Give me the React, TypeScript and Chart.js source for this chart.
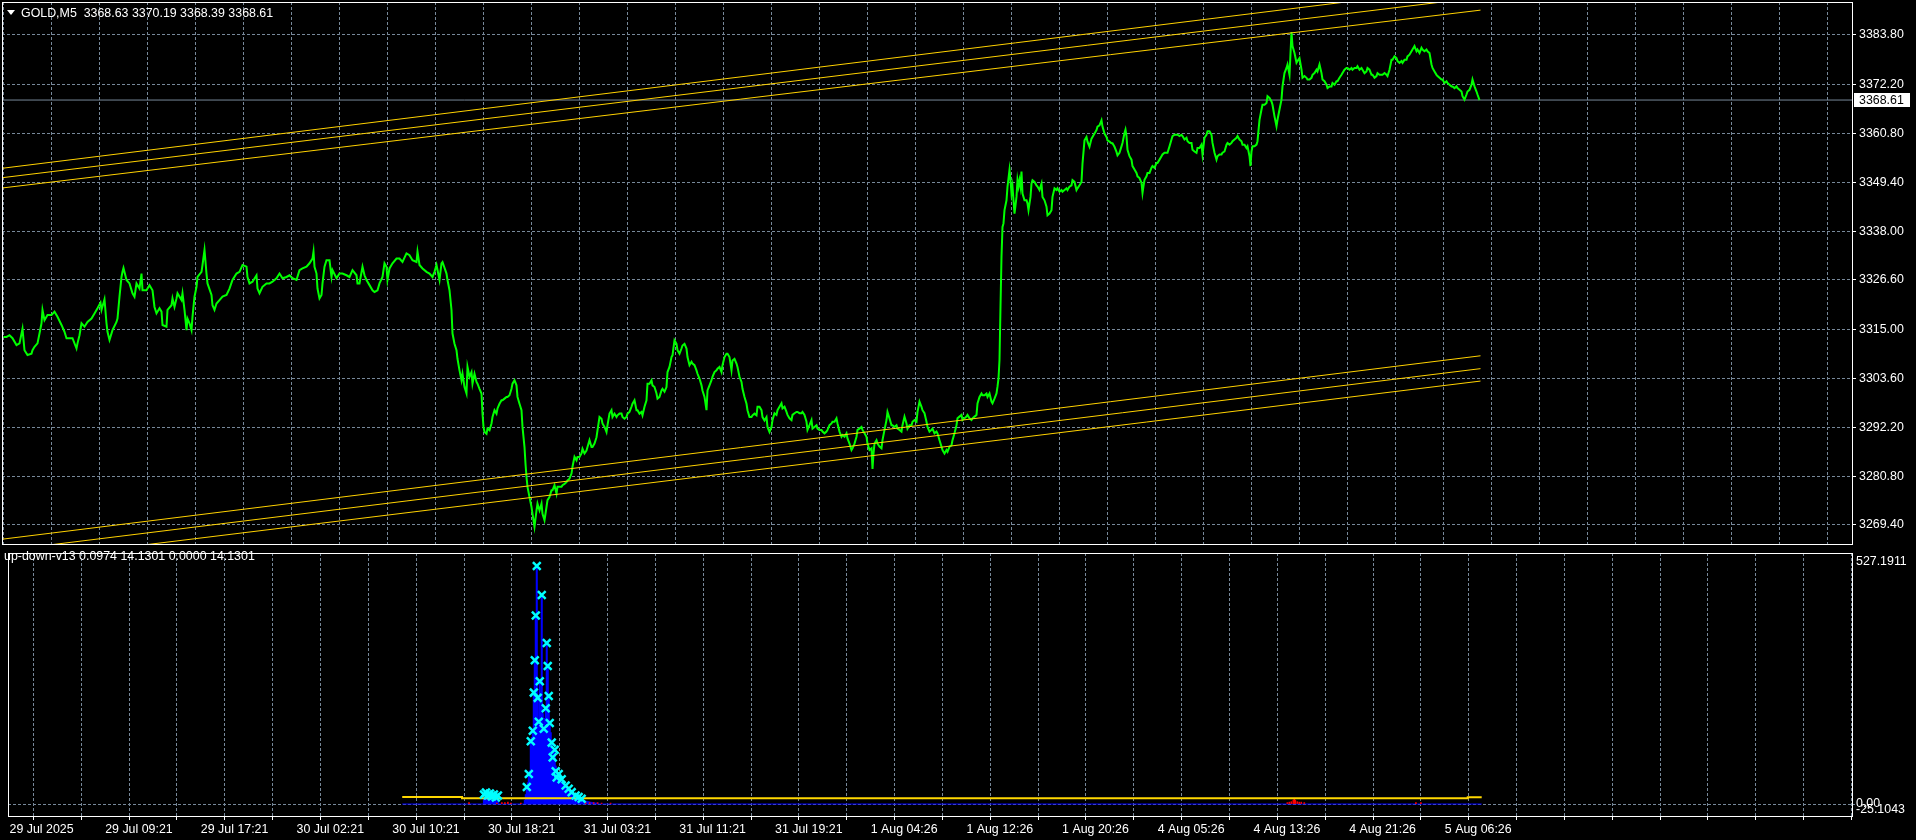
import React, { useEffect, useRef } from "react";
import { Chart, registerables } from "chart.js";

Chart.register(...registerables);

// ---------------- data ----------------
const titleText = "GOLD,M5  3368.63 3370.19 3368.39 3368.61";
const indicatorTitle = "up-down-v13 0.0974 14.1301 0.0000 14.1301";

const timeLabels = [
  "29 Jul 2025", "29 Jul 09:21", "29 Jul 17:21", "30 Jul 02:21", "30 Jul 10:21",
  "30 Jul 18:21", "31 Jul 03:21", "31 Jul 11:21", "31 Jul 19:21", "1 Aug 04:26",
  "1 Aug 12:26", "1 Aug 20:26", "4 Aug 05:26", "4 Aug 13:26", "4 Aug 21:26", "5 Aug 06:26",
];
const gridStep = 48;
const labelStep = 96;
const barMin = -1.5;
const barMax = 1848.5;

const priceTicks = [3383.8, 3372.2, 3360.8, 3349.4, 3338.0, 3326.6, 3315.0, 3303.6, 3292.2, 3280.8, 3269.4];
const priceMin = 3264.96;
const priceMax = 3391.5;
const lastPrice = 3368.61;

// close price (bar index, price)
const closeBars = [
  0,3,6,9,13,16,19,21,24,28, 29,31,34,36,38,39,41,44,48,51, 54,58,61,63,66,69,73,74,76,78,
  81,84,88,91,94,97,98,101,103,104, 106,109,113,114,116,118,119,120,123,126, 129,131,133,136,138,139,143,146,149,151,
  153,156,158,159,163,164,168,169,171,173, 174,178,179,181,183,184,186,188,189,191, 193,194,198,199,201,203,204,208,209,211,
  213,216,219,223,226,229,233,236,239,243, 244,246,249,253,254,256,259,263,266,269, 273,276,279,283,286,289,293,296,299,303,
  306,309,310,311,313,314,316,318,319,321, 323,326,328,329,333,336,339,343,346,349, 353,354,356,359,361,363,366,369,371,374,
  376,379,381,383,384,386,389,393,396,399, 403,406,409,413,414,416,419,423,426,429, 431,433,436,438,439,443,444,446,448,
  449,451,453,454,456,458,459,461,463,464, 466,468,469,471,473,474,476,478,479,480, 481,483,484,486,488,489,491,493,494,496,
  498,499,501,503,504,506,508,509,511,513, 514,516,518,519,521,522,523,524,526,528, 529,531,533,534,536,538,539,541,543,544,
  546,548,549,551,553,554,556,558,559,561, 563,564,566,568,569,571,573,574,576,578, 579,581,583,584,586,588,589,591,593,594,
  596,598,599,601,603,604,606,608,609,611, 613,614,616,618,619,621,623,624,626,628, 629,631,633,634,636,638,639,641,643,644,
  646,648,649,651,653,654,656,658,659,661, 663,664,666,668,669,671,673,674,676,678, 679,681,683,684,686,688,689,691,693,694,
  696,698,699,701,703,704,706,708,709,711, 713,714,716,718,719,721,723,724,726,728, 729,731,733,734,736,738,739,741,743,744,
  746,748,749,751,753,754,756,758,759,761, 763,764,766,
  768,769,771,773,774,776,778,779,781,783, 784,786,788,789,791,793,794,796,798,799, 801,803,804,806,808,809,811,813,814,816,
  818,819,821,823,824,826,828,829,831,833, 834,836,838,839,841,843,844,846,848,849, 851,853,854,856,858,859,861,863,864,866,
  868,869,870,871,873,874,876,878,879,881, 883,884,886,888,889,891,893,894,896,898, 899,901,903,904,906,908,909,911,913,914,
  916,918,919,921,923,924,926,928,929,931, 933,934,936,938,939,941,943,944,946,948, 949,951,953,954,956,958,959,961,963,964,
  966,968,969,971,973,974,976,978,979,981, 983,984,986,988,989,991,993,994,995,996, 997,998,999,1000,1001,1003,1004,1005,1006,1007,
  1008,1009,1010,1011,1013,1014,1015,1016,1017,1018, 1019,1021,1023,1024,1025,1027,1028,1029,1031,1033,
  1034,1036,1038,1039,1041,1043,1044,1046,1048,1049, 1051,1053,1054,1056,1058,1059,1061,1063,1064,1066,
  1068,1069,1071,1073,1074,1076,1078,1079,1081,1083, 1084,1086,1088,1089,1091,1093,1094,1096,1098,1099,
  1101,1103,1104,1106,1108,1109,1111,1113,1114,
  1116,1118,1119,1121,1122,1123,1124,1126,1128,1129, 1131,1133,1134,1136,1138,1139,1140,1141,1143,1144,
  1146,1148,1149,1151,1153,1154,1156,1158,1159,1161, 1163,1164,1166,1168,1169,1171,1173,1174,1176,1178,
  1179,1181,1183,1184,1186,1188,1189,1191,1193,1194, 1196,1198,1199,1201,1203,1204,1206,1208,1209,1211,
  1213,1214,1216,1218,1219,1221,1223,1224,1226,1228, 1229,1231,1233,1234,1236,1238,1239,1241,1243,1244,
  1246,1247,1248,1249,1251,1253,1254,1256,1258,1259, 1261,1263,1264,1266,1268,1269,1271,1273,1274,1276,
  1278,1279,1281,1283,1284,1286,1288,1289,1291,1293, 1294,1296,1298,1299,1301,1303,1304,1306,1308,1309,
  1311,1313,1314,1316,1318,1319,1321,1323,1324,1326, 1328,1329,1331,1333,1334,1336,1338,1339,1341,1343,
  1344,1346,1348,1349,1351,1353,1354,1356,1358,1359, 1361,1363,1364,1366,1368,1369,1371,1373,1374,1376,
  1378,1379,1381,1383,1384,1386,1388,1389,1391,1393, 1394,1396,1398,1399,1401,1403,1404,1406,1408,1409,
  1411,1413,1414,1416,1418,1419,1421,1423,1424,1426, 1428,1429,1431,1433,1434,1436,1438,1439,1441,1443,
  1444,1446,1448,1449,1451,1453,1454,1456,1458,1459, 1461,1463,1464,1466,1468,1469,1471,1473,1474,1476,
];
const closePrices = [
  3313.3,3313.3,3313.7,3313.0,3311.4,3311.8,3315.2,3310.2,3309.1,3309.4, 3310.2,3311.0,3311.8,3314.1,3316.5,3319.6,3317.2,3318.4,3318.4,3319.2,
  3318.0,3316.1,3314.5,3313.0,3313.0,3313.0,3310.6,3311.8,3313.7,3316.5, 3315.7,3316.8,3317.6,3318.8,3320.0,3321.3,3319.6,3322.1,3316.5,3314.5,
  3312.6,3314.9,3316.8,3317.6,3322.7,3327.3,3328.5,3329.4,3326.6,3325.8, 3323.5,3322.7,3325.8,3324.6,3328.1,3324.2,3324.2,3325.4,3324.2,3320.3,
  3318.8,3320.0,3319.2,3316.1,3315.7,3319.6,3320.7,3322.3,3320.3,3322.3, 3323.5,3321.9,3323.5,3319.6,3314.9,3317.6,3316.5,3314.9,3318.0,3322.7,
  3325.0,3327.3,3328.5,3330.1,3333.6,3328.1,3325.8,3323.1,3320.7,3319.6, 3321.1,3321.9,3322.7,3323.1,3324.6,3326.6,3328.1,3328.5,3330.1,3329.7,
  3327.3,3325.8,3326.2,3327.7,3324.6,3323.5,3325.0,3325.8,3325.8,3326.2, 3327.0,3328.1,3327.0,3327.3,3327.7,3327.0,3326.6,3328.9,3329.3,3329.7,
  3330.5,3331.6,3333.2,3329.7,3328.1,3324.6,3322.3,3323.1,3325.8,3329.7, 3331.2,3331.2,3327.3,3328.9,3327.0,3328.1,3328.1,3327.7,3327.3,3328.9,
  3327.7,3325.8,3325.8,3329.7,3327.7,3326.6,3325.4,3324.2,3323.8,3324.2, 3325.8,3327.3,3330.5,3329.7,3326.6,3329.3,3330.5,3331.6,3331.6,3330.8,
  3332.8,3332.4,3331.2,3330.8,3333.2,3330.1,3329.3,3328.5,3328.1,3327.3, 3328.5,3330.1,3326.6,3330.5,3330.8,3328.1,3326.6,3324.2,3319.6,
  3314.1,3311.7,3310.2,3308.2,3305.5,3303.2,3304.7,3301.6,3300.1,3306.3, 3304.0,3305.1,3302.4,3304.7,3302.8,3302.4,3301.2,3300.1,3295.4,3292.3,
  3291.1,3290.7,3291.9,3291.5,3293.1,3294.6,3296.2,3295.4,3296.6,3297.7, 3298.5,3298.5,3298.9,3299.3,3299.3,3299.7,3301.2,3302.4,3303.2,3302.0,
  3299.3,3297.7,3296.2,3292.3,3287.6,3283.7,3280.6,3278.3,3275.9,3273.6, 3272.0,3269.0,3272.8,3274.4,3272.8,3274.4,3272.0,3270.5,3273.6,3275.2,
  3275.9,3277.5,3277.5,3278.7,3276.7,3278.3,3278.3,3278.3,3278.7,3279.0, 3279.4,3279.8,3280.2,3281.4,3283.0,3285.3,3284.5,3285.3,3285.3,3286.1,
  3287.2,3286.1,3286.8,3287.6,3289.2,3287.6,3287.6,3288.4,3289.9,3291.5, 3294.6,3294.2,3293.1,3292.3,3291.1,3292.7,3295.4,3296.2,3294.6,3295.4,
  3294.6,3295.0,3295.4,3295.4,3294.6,3294.2,3294.6,3295.4,3295.8,3297.0, 3297.7,3298.5,3296.2,3296.2,3295.4,3295.8,3295.0,3297.0,3298.5,3302.4,
  3302.4,3303.2,3302.0,3301.6,3300.1,3298.9,3299.3,3300.8,3301.2,3300.5, 3301.6,3305.1,3306.3,3308.6,3309.0,3312.5,3311.7,3310.2,3309.4,3310.6,
  3311.3,3311.7,3310.6,3308.6,3306.7,3307.5,3307.1,3306.7,3305.5,3304.7, 3303.6,3302.0,3300.8,3299.3,3296.2,3300.8,3302.0,3303.2,3304.0,3305.1,
  3305.5,3305.9,3306.3,3305.1,3306.7,3308.6,3309.4,3309.4,3308.6,3305.5, 3307.8,3308.2,3307.1,3306.3,3304.0,3302.8,3301.2,3299.3,3297.7,3296.2,
  3294.6,3294.6,3295.0,3295.4,3295.0,3297.0,3297.0,3296.2,3294.6,3293.8, 3294.6,3292.3,3291.1,
  3292.3,3293.9,3295.5,3295.1,3296.2,3297.0,3297.8,3296.6,3297.0,3295.8, 3295.1,3294.3,3293.9,3295.1,3295.5,3295.8,3295.8,3295.5,3295.5,3295.8,
  3295.1,3293.5,3291.6,3292.7,3293.9,3291.9,3292.3,3292.7,3291.9,3291.6, 3291.6,3291.2,3290.8,3291.2,3291.6,3292.7,3293.1,3293.5,3293.5,3294.3,
  3293.1,3291.2,3290.0,3290.4,3290.0,3290.8,3289.6,3288.4,3286.9,3287.3, 3288.4,3290.0,3291.6,3291.9,3292.3,3291.6,3290.8,3290.0,3288.4,3286.9,
  3287.3,3282.5,3286.1,3288.4,3289.2,3288.4,3287.7,3287.3,3289.2,3291.6, 3293.9,3295.8,3294.3,3292.7,3292.7,3292.3,3292.7,3291.9,3291.6,3291.2,
  3292.7,3294.7,3293.1,3291.9,3292.7,3292.7,3293.5,3293.9,3293.5,3295.8, 3298.2,3297.0,3296.2,3295.5,3293.5,3292.3,3291.2,3291.6,3291.9,3290.8,
  3291.2,3290.8,3289.2,3287.7,3286.9,3286.1,3286.9,3286.5,3287.7,3288.0, 3289.2,3290.8,3292.7,3294.3,3294.7,3295.1,3293.9,3294.3,3294.7,3295.1,
  3294.3,3293.9,3294.3,3294.7,3295.1,3297.8,3299.3,3300.1,3299.7,3299.7, 3300.1,3299.3,3300.1,3298.2,3297.8,3298.9,3300.1,3301.7,3303.6,3307.9,
  3320.4,3332.0,3339.0,3339.8,3342.9,3345.2,3348.4,3350.3,3352.3,3349.9, 3346.8,3348.4,3345.2,3342.1,3346.0,3349.9,3348.4,3349.9,3348.4,3351.9,
  3346.8,3345.2,3345.2,3344.5,3342.9,3346.0,3349.1,3349.9,3349.5,3348.7, 3348.4,3347.6,3349.1,3346.0,3345.2,3343.7,3341.7,3342.1,3342.9,3346.0,
  3348.0,3347.6,3348.0,3347.2,3347.6,3347.2,3347.6,3348.0,3347.6,3348.4, 3348.7,3349.9,3349.5,3347.6,3348.0,3348.7,3349.5,3353.8,3359.2,3360.0,
  3358.9,3357.7,3359.6,3360.0,3360.8,3361.6,3362.4,3362.7,3363.9,3362.4, 3360.8,3360.0,3359.2,3358.9,3358.5,3358.5,3357.7,3356.5,3355.7,
  3356.3,3357.8,3358.6,3360.9,3361.7,3360.2,3357.0,3355.5,3354.7,3353.2, 3352.4,3351.6,3350.8,3350.4,3349.3,3346.9,3348.5,3350.0,3350.8,3351.6,
  3351.6,3352.8,3353.2,3352.8,3353.9,3353.9,3354.7,3355.5,3355.9,3356.3, 3356.3,3356.3,3357.8,3359.4,3360.2,3360.5,3360.5,3360.5,3360.2,3360.5,
  3360.2,3359.4,3359.8,3359.0,3358.6,3358.6,3357.0,3356.6,3356.3,3357.4, 3357.4,3358.2,3355.9,3359.8,3360.5,3361.3,3361.3,3360.5,3358.6,3356.3,
  3354.7,3355.5,3355.9,3355.9,3356.3,3356.6,3358.2,3358.6,3358.2,3358.6, 3359.0,3359.4,3359.8,3360.2,3359.4,3359.0,3358.2,3358.2,3357.4,3357.8,
  3355.5,3353.2,3356.6,3357.8,3357.8,3358.2,3359.0,3364.0,3366.4,3367.5, 3367.5,3367.9,3369.5,3369.1,3368.3,3367.5,3364.8,3362.5,3364.0,3366.4,
  3368.7,3371.8,3374.9,3376.1,3376.9,3374.5,3384.5,3381.2,3379.6,3377.3, 3377.7,3378.4,3375.7,3373.8,3374.2,3373.8,3373.4,3373.4,3373.8,3374.5,
  3374.9,3375.7,3375.3,3376.9,3374.9,3373.4,3373.0,3372.2,3371.4,3371.8, 3371.8,3372.6,3372.2,3373.0,3373.0,3373.8,3374.5,3374.9,3375.7,3376.1,
  3376.1,3375.7,3376.1,3375.7,3376.1,3376.1,3376.5,3375.7,3376.1,3375.7, 3374.9,3375.3,3376.1,3375.7,3374.5,3374.5,3373.8,3374.2,3374.9,3374.5,
  3374.5,3374.5,3374.9,3374.5,3374.2,3375.7,3378.0,3378.0,3378.8,3378.4, 3377.7,3377.3,3377.7,3377.3,3378.0,3378.0,3378.8,3379.2,3380.0,3380.4,
  3381.2,3380.0,3380.4,3379.6,3380.8,3380.4,3380.0,3380.4,3380.0,3379.6, 3376.9,3376.1,3375.3,3374.5,3374.2,3373.8,3373.4,3373.4,3372.6,3373.0,
  3372.6,3372.2,3371.8,3371.8,3371.4,3371.8,3371.4,3371.0,3370.6,3369.5, 3368.7,3369.9,3370.6,3371.0,3372.2,3373.4,3371.8,3370.6,3369.9,3368.61,
];

// channel lines (start bar / end bar, prices at both ends)
const channelBars = [-4, 1477];
const upperChannel1 = [3352.6, 3395.4];
const upperChannel2 = [3350.4, 3392.6];
const upperChannel3 = [3348.0, 3389.6];
const lowerChannel1 = [3266.0, 3308.9];
const lowerChannel2 = [3263.3, 3305.9];
const lowerChannel3 = [3260.6, 3303.0];

// indicator
const indMin = -25.1043;
const indMax = 527.1911;
const indStartBar = 394;
const indEndBar = 1477;
const histBars = [
  476,477,478,479,480,481,482,483,484,485,486,487,488,489,490,
  517,518,519,520,521,522,523,524,525,526,527,528,529,530,531,532,533,534,535,536,537,538,539,540,
  541,542,543,544,545,546,547,548,549,550,551,552,553,554,555,556,557,558,559,560,561,562,563,564,
  565,566,567,568,569,570,571,572,573,574,575,576,577,578,579,580,581,582,583,584,585,586,587,588,589,590,
];
const histValues = [
  10,14,18,12,14,10,20,12,16,8,12,6,8,4,6,
  8,20,36,45,63,70,132,140,154,234,302,396,500,223,173,258,200,439,190,158,180,201,338,290,
  227,170,150,129,98,110,114,80,69,60,63,55,50,52,45,42,40,39,35,33,32,28,26,25,
  22,20,19,18,16,15,15,13,12,11,9,8,7,6,6,5,5,4,4,3,3,3,2,2,2,2,
];
const crossBars = [476,478,480,482,484,486,488,490,
  519,521,523,525,526,527,528,529,530,531,532,534,536,538,539,540,541,542,544,545,547,548,549,551,554,558,561,564,568,571,574];
const crossValues = [20,24,18,22,16,20,14,18,
  36,63,132,154,234,302,396,500,223,173,258,439,158,201,338,290,227,170,129,98,114,69,56,63,52,39,32,25,18,15,11];
const redBars = [461,489,494,497,500,503,513,578,582,586,590,594,603,1282,1284,1286,1288,1289,1290,1292,1294,1296,1299,1411,1416];
const redValues = [3,2,3,3,4,2,2,3,3,3,3,2,2,3,4,5,8,10,8,5,4,4,3,3,3];
const yellowBars = [394, 454, 1463, 1477];
const yellowValues = [15.0, 12.2, 14.13, 14.13];

// ---------------- styles ----------------
const GRID = "#778899";
const FONT_FAMILY = "'Liberation Sans', Arial, sans-serif";
const FONT_SIZE = 12.4;
const CHANNEL = "#FFD200";

const gridTicks = Array.from({ length: Math.floor(barMax / gridStep) + 1 }, (_, i) => i * gridStep);

const pts = (xs: number[], ys: number[]) => xs.map((x, i) => ({ x, y: ys[i] }));

const framePlugin = {
  id: "frame",
  afterDraw(chart: any) {
    const { ctx, chartArea: a } = chart;
    ctx.save();
    ctx.setLineDash([]);
    ctx.strokeStyle = "#FFFFFF";
    ctx.lineWidth = 1;
    ctx.strokeRect(a.left + 0.5, a.top + 0.5, a.right - a.left, a.bottom - a.top);
    ctx.restore();
  },
};

const lastPricePlugin = {
  id: "lastPrice",
  afterDraw(chart: any) {
    const { ctx, chartArea: a, scales } = chart;
    const y = scales.y.getPixelForValue(lastPrice);
    ctx.save();
    ctx.fillStyle = "#FFFFFF";
    ctx.fillRect(a.right + 2, Math.round(y) - 7, 56, 14);
    ctx.fillStyle = "#000000";
    ctx.font = `${FONT_SIZE}px ${FONT_FAMILY}`;
    ctx.textBaseline = "middle";
    ctx.textAlign = "left";
    ctx.fillText(lastPrice.toFixed(2), a.right + 7, Math.round(y) + 0.5);
    ctx.restore();
  },
};

const indRangePlugin = {
  id: "indRange",
  afterDraw(chart: any) {
    const { ctx, chartArea: a } = chart;
    ctx.save();
    ctx.fillStyle = "#FFFFFF";
    ctx.font = `${FONT_SIZE}px ${FONT_FAMILY}`;
    ctx.textAlign = "left";
    ctx.textBaseline = "top";
    ctx.fillText(indMax.toFixed(4), a.right + 4, a.top + 2);
    ctx.textBaseline = "alphabetic";
    ctx.fillText(indMin.toFixed(4), a.right + 4, a.bottom - 3);
    ctx.restore();
  },
};

const noPad = (s: any) => {
  s.paddingLeft = 0;
  s.paddingRight = 0;
  s.paddingTop = 0;
  s.paddingBottom = 0;
};

function mainConfig(): any {
  const line = (data: any[], color: string, width = 1) => ({
    type: "line",
    data,
    borderColor: color,
    borderWidth: width,
    pointRadius: 0,
    tension: 0,
    fill: false,
  });
  return {
    type: "line",
    data: {
      datasets: [
        line(pts(channelBars, upperChannel1), CHANNEL),
        line(pts(channelBars, upperChannel2), CHANNEL),
        line(pts(channelBars, upperChannel3), CHANNEL),
        line(pts(channelBars, lowerChannel1), CHANNEL),
        line(pts(channelBars, lowerChannel2), CHANNEL),
        line(pts(channelBars, lowerChannel3), CHANNEL),
        line(pts(closeBars, closePrices), "#00FF00", 2),
        line(pts([barMin, barMax], [lastPrice, lastPrice]), GRID),
      ],
    },
    options: {
      animation: false,
      responsive: false,
      devicePixelRatio: 1,
      events: [],
      layout: { padding: { left: 2, top: 2, right: 2, bottom: 2 } },
      plugins: { legend: { display: false }, tooltip: { enabled: false }, title: { display: false } },
      scales: {
        x: {
          type: "linear",
          min: barMin,
          max: barMax,
          afterBuildTicks: (ax: any) => {
            ax.ticks = gridTicks.map((v) => ({ value: v }));
          },
          afterFit: (s: any) => {
            s.height = 0;
            noPad(s);
          },
          ticks: { display: false },
          grid: { color: GRID, drawTicks: false, lineWidth: 1 },
          border: { display: false, dash: [3, 2] },
        },
        y: {
          position: "right",
          min: priceMin,
          max: priceMax,
          afterBuildTicks: (ax: any) => {
            ax.ticks = priceTicks.map((v) => ({ value: v }));
          },
          afterFit: (s: any) => {
            s.width = 62;
            noPad(s);
          },
          ticks: {
            color: "#FFFFFF",
            padding: 3,
            font: { family: FONT_FAMILY, size: FONT_SIZE },
            callback: (v: any) => Number(v).toFixed(2),
          },
          grid: { color: GRID, tickLength: 4, tickColor: "#FFFFFF", lineWidth: 1 },
          border: { display: false, dash: [3, 2] },
        },
      },
    },
    plugins: [framePlugin, lastPricePlugin],
  };
}

function indicatorConfig(): any {
  return {
    type: "bar",
    data: {
      datasets: [
        {
          type: "scatter",
          data: pts(crossBars, crossValues),
          pointStyle: "crossRot",
          pointRadius: 5.5,
          pointBorderWidth: 2.5,
          borderWidth: 2.5,
          borderColor: "#00FFFF",
          pointBorderColor: "#00FFFF",
          backgroundColor: "#00FFFF",
        },
        {
          type: "line",
          data: pts(yellowBars, yellowValues),
          borderColor: "#FFD700",
          borderWidth: 2,
          pointRadius: 0,
          stepped: true,
        },
        {
          type: "bar",
          data: pts(redBars, redValues),
          backgroundColor: "#FF0000",
          barThickness: 1,
          grouped: false,
        },
        {
          type: "line",
          data: pts([indStartBar, indEndBar], [0, 0]),
          borderColor: "#0000FF",
          borderWidth: 1,
          pointRadius: 0,
        },
        {
          type: "bar",
          data: pts(histBars, histValues),
          backgroundColor: "#0000FF",
          barThickness: 1.4,
          grouped: false,
        },
      ],
    },
    options: {
      animation: false,
      responsive: false,
      devicePixelRatio: 1,
      events: [],
      layout: { padding: { left: 2, top: 1, right: 2, bottom: 0 } },
      plugins: { legend: { display: false }, tooltip: { enabled: false }, title: { display: false } },
      scales: {
        x: {
          type: "linear",
          offset: false,
          min: barMin,
          max: barMax,
          afterBuildTicks: (ax: any) => {
            ax.ticks = gridTicks.map((v) => ({ value: v }));
          },
          afterFit: (s: any) => {
            s.height = 24;
            noPad(s);
          },
          ticks: {
            color: "#FFFFFF",
            align: "start",
            autoSkip: false,
            maxRotation: 0,
            minRotation: 0,
            padding: 2,
            font: { family: FONT_FAMILY, size: FONT_SIZE },
            callback: (v: any) => {
              const i = Number(v) / labelStep;
              return Number.isInteger(i) && i < timeLabels.length ? timeLabels[i] : "";
            },
          },
          grid: { color: GRID, tickLength: 4, tickColor: "#FFFFFF", lineWidth: 1 },
          border: { display: false, dash: [3, 2] },
        },
        y: {
          position: "right",
          min: indMin,
          max: indMax,
          afterBuildTicks: (ax: any) => {
            ax.ticks = [{ value: 0 }];
          },
          afterFit: (s: any) => {
            s.width = 62;
            noPad(s);
          },
          ticks: {
            color: "#FFFFFF",
            padding: 1,
            font: { family: FONT_FAMILY, size: FONT_SIZE },
            callback: (v: any) => Number(v).toFixed(2),
          },
          grid: { color: GRID, tickLength: 3, tickColor: GRID, lineWidth: 1 },
          border: { display: false, dash: [3, 2] },
        },
      },
    },
    plugins: [framePlugin, indRangePlugin],
  };
}

export default function App() {
  const mainRef = useRef<HTMLCanvasElement>(null);
  const indRef = useRef<HTMLCanvasElement>(null);

  useEffect(() => {
    const c1 = new Chart(mainRef.current as HTMLCanvasElement, mainConfig());
    const c2 = new Chart(indRef.current as HTMLCanvasElement, indicatorConfig());
    return () => {
      c1.destroy();
      c2.destroy();
    };
  }, []);

  const textStyle: React.CSSProperties = {
    position: "absolute",
    color: "#FFFFFF",
    fontFamily: FONT_FAMILY,
    fontSize: FONT_SIZE,
    lineHeight: "15px",
    whiteSpace: "pre",
  };

  return (
    <div style={{ position: "fixed", left: 0, top: 0, width: 1916, height: 840, background: "#000000", overflow: "hidden" }}>
      <canvas ref={mainRef} width={1916} height={546} style={{ position: "absolute", left: 0, top: 0, width: 1916, height: 546 }} />
      <canvas ref={indRef} width={1916} height={295} style={{ position: "absolute", left: 0, top: 545, width: 1916, height: 295 }} />
      <div
        style={{
          position: "absolute",
          left: 7,
          top: 10,
          width: 0,
          height: 0,
          borderLeft: "4px solid transparent",
          borderRight: "4px solid transparent",
          borderTop: "5px solid #FFFFFF",
        }}
      />
      <div style={{ ...textStyle, left: 21, top: 6 }}>{titleText}</div>
      <div style={{ ...textStyle, left: 4, top: 549 }}>{indicatorTitle}</div>
    </div>
  );
}
